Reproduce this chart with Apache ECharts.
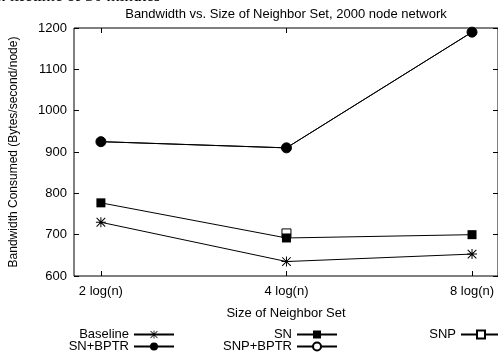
<!DOCTYPE html>
<html>
<head>
<meta charset="utf-8">
<script src="https://cdn.jsdelivr.net/npm/echarts@6/dist/echarts.min.js"></script>
<style>
  html, body { margin: 0; padding: 0; background: #fff; }
  #chart { width: 498px; height: 360px; }
</style>
</head>
<body>
<div id="chart"></div>
<script>
// categories sit at x = 1, 2, 3 on a value axis (gnuplot style spacing)
const categories = ['2 log(n)', '4 log(n)', '8 log(n)'];
const xPos = [1, 2, 3];

const baseline = [730, 635, 653];
const sn = [777, 692, 700];
const snp = [null, 703, null];
const snBptr = [925, 910, 1190];
const snpBptr = [925, 910, 1190];

const font = 'Liberation Sans, Arial, sans-serif';
const starPath = 'path://M4.5,0H5.5V10H4.5Z M0,4.5H10V5.5H0Z M0.35,1.06L1.06,0.35L9.65,8.94L8.94,9.65Z M8.94,0.35L9.65,1.06L1.06,9.65L0.35,8.94Z';

const toPoints = (vals) => xPos.map((x, i) => [x, vals[i]]);

const chart = echarts.init(document.getElementById('chart'));

const mkSeries = (name, vals, symbol, size, fill, border) => ({
  name: name,
  type: 'line',
  data: toPoints(vals),
  symbol: symbol,
  symbolSize: size,
  showAllSymbol: true,
  lineStyle: { color: '#000', width: 1 },
  itemStyle: { color: fill, borderColor: '#000', borderWidth: border },
  emphasis: { disabled: true },
  animation: false
});

const mkLegend = (name, right, top) => ({
  data: [name],
  right: right,
  top: top,
  align: 'right',
  orient: 'horizontal',
  padding: 0,
  itemWidth: 40,
  itemHeight: 10,
  selectedMode: false,
  textStyle: { fontFamily: font, fontSize: 13, color: '#000' }
});

const option = {
  backgroundColor: '#fff',
  animation: false,
  title: {
    text: 'Bandwidth vs. Size of Neighbor Set, 2000 node network',
    left: 281,
    textAlign: 'center',
    top: 3,
    textStyle: { fontFamily: font, fontSize: 13, fontWeight: 'normal', color: '#000' }
  },
  graphic: [{
    type: 'text',
    left: -3,
    top: -12,
    style: { text: 'n lifetime of 30 minutes', font: '17px "Liberation Serif", serif', fill: '#000' }
  }],
  grid: {
    left: 73, top: 28, width: 427, height: 248,
    show: true, borderColor: '#000', borderWidth: 1
  },
  legend: [
    mkLegend('Baseline', 323, 328),
    mkLegend('SN', 160, 328),
    mkLegend('SNP', -4, 328),
    mkLegend('SN+BPTR', 323, 340),
    mkLegend('SNP+BPTR', 160, 340)
  ],
  xAxis: [{
    type: 'value',
    min: 0.855, max: 3.14,
    name: 'Size of Neighbor Set',
    nameLocation: 'middle',
    nameGap: 31,
    nameTextStyle: { fontFamily: font, fontSize: 13, color: '#000' },
    splitLine: { show: false },
    axisLine: { show: false },
    axisTick: { inside: true, length: 5, customValues: xPos, lineStyle: { color: '#000' } },
    axisLabel: {
      customValues: xPos, margin: 9,
      fontFamily: font, fontSize: 13, color: '#000',
      formatter: (v) => categories[Math.round(v) - 1] || ''
    }
  }, {
    type: 'value',
    position: 'top',
    min: 0.855, max: 3.14,
    splitLine: { show: false },
    axisLine: { show: false },
    axisTick: { inside: true, length: 5, customValues: xPos, lineStyle: { color: '#000' } },
    axisLabel: { show: false }
  }],
  yAxis: [{
    type: 'value',
    min: 600, max: 1200, interval: 100,
    name: 'Bandwidth Consumed (Bytes/second/node)',
    nameLocation: 'middle',
    nameRotate: 90,
    nameGap: 54,
    nameTextStyle: { fontFamily: font, fontSize: 12, color: '#000' },
    splitLine: { show: false },
    axisLine: { show: false },
    axisTick: { inside: true, length: 5, lineStyle: { color: '#000' } },
    axisLabel: { margin: 7, fontFamily: font, fontSize: 13, color: '#000', formatter: (v) => String(v) }
  }, {
    type: 'value',
    position: 'right',
    min: 600, max: 1200, interval: 100,
    splitLine: { show: false },
    axisLine: { show: false },
    axisTick: { inside: true, length: 5, lineStyle: { color: '#000' } },
    axisLabel: { show: false }
  }],
  series: [
    mkSeries('Baseline', baseline, starPath, 10, '#000', 0),
    mkSeries('SNP', snp, 'rect', 9, '#fff', 1),
    mkSeries('SN', sn, 'rect', 9, '#000', 0),
    mkSeries('SNP+BPTR', snpBptr, 'circle', 10, '#fff', 1),
    mkSeries('SN+BPTR', snBptr, 'circle', 10, '#000', 0)
  ]
};

chart.setOption(option);
</script>
</body>
</html>
